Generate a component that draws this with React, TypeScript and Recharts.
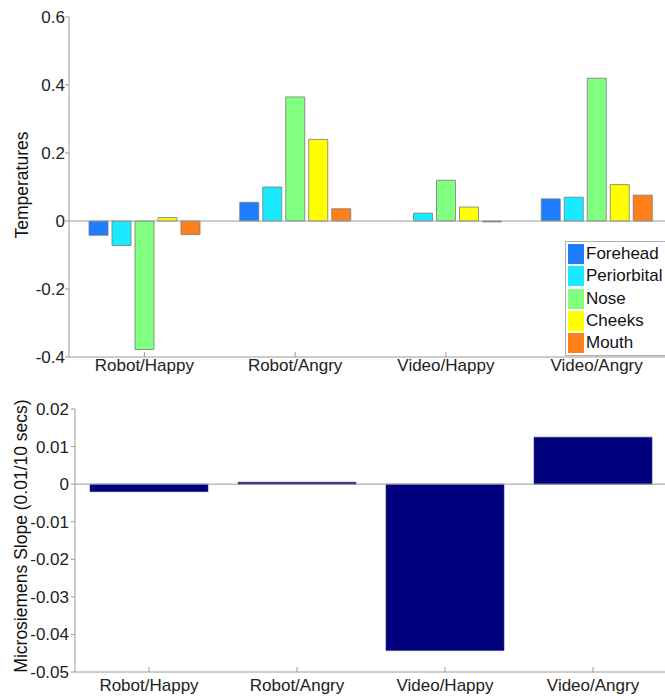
import React from "react"
import { Bar, BarChart, ReferenceLine, XAxis, YAxis } from "recharts"

// categories shared by both panels
const conditions = ["Robot/Happy", "Robot/Angry", "Video/Happy", "Video/Angry"]

// top panel: temperature change per facial region
const forehead = [-0.042, 0.055, 0, 0.065]
const periorbital = [-0.072, 0.1, 0.023, 0.07]
const nose = [-0.378, 0.365, 0.12, 0.42]
const cheeks = [0.01, 0.24, 0.041, 0.107]
const mouth = [-0.04, 0.036, -0.003, 0.076]

const regions = [
  { key: "Forehead", values: forehead, color: "#1a7eff" },
  { key: "Periorbital", values: periorbital, color: "#1aeaff" },
  { key: "Nose", values: nose, color: "#80ff80" },
  { key: "Cheeks", values: cheeks, color: "#ffff00" },
  { key: "Mouth", values: mouth, color: "#ff7f1a" },
]
const tempTicks = [-0.4, -0.2, 0, 0.2, 0.4, 0.6]

// bottom panel: skin conductance slope
const slope = [-0.002, 0.0005, -0.0443, 0.0125]
const slopeTicks = [-0.05, -0.04, -0.03, -0.02, -0.01, 0, 0.01, 0.02]

const tempData = conditions.map((name, i) => {
  const row: Record<string, any> = { name }
  regions.forEach((r) => (row[r.key] = r.values[i]))
  return row
})
const slopeData = conditions.map((name, i) => ({ name, slope: slope[i] }))

const font = "Arial, 'Liberation Sans', sans-serif"
const axisColor = "#9a9a9a"
const tickStyle = { fontSize: 17, fill: "#222", fontFamily: font }

const fmt = (v: number) => (v === 0 ? "0" : String(v))
const blank = () => ""

function RegionLegend() {
  return (
    <div
      style={{
        position: "absolute",
        left: 565,
        top: 241,
        border: "1px solid #b0b0b0",
        background: "white",
        padding: "1px 0 1px 2px",
        fontSize: 17,
        color: "#111",
        width: 110,
      }}
    >
      {regions.map((r) => (
        <div key={r.key} style={{ display: "flex", alignItems: "center", height: 22.3 }}>
          <span
            style={{
              display: "inline-block",
              width: 16,
              height: 20,
              background: r.color,
              marginRight: 2,
            }}
          />
          <span>{r.key}</span>
        </div>
      ))}
    </div>
  )
}

export default function App() {
  return (
    <div
      style={{
        position: "fixed",
        left: 0,
        top: 0,
        width: 665,
        height: 696,
        overflow: "hidden",
        background: "white",
        fontFamily: font,
      }}
    >
      <div
        style={{
          position: "absolute",
          left: 22,
          top: 185,
          transform: "translate(-50%, -50%) rotate(-90deg)",
          fontSize: 17.5,
          whiteSpace: "nowrap",
          color: "#111",
        }}
      >
        Temperatures
      </div>
      <div
        style={{
          position: "absolute",
          left: 21,
          top: 536,
          transform: "translate(-50%, -50%) rotate(-90deg)",
          fontSize: 17.5,
          whiteSpace: "nowrap",
          color: "#111",
        }}
      >
        Microsiemens Slope (0.01/10 secs)
      </div>

      <div style={{ position: "absolute", left: 0, top: 0 }}>
        <BarChart
          width={700}
          height={390}
          data={tempData}
          margin={{ top: 17, right: 28, left: 0, bottom: 3 }}
          barSize={19}
          barGap={4}
        >
          <XAxis
            xAxisId="top"
            orientation="top"
            dataKey="name"
            tickFormatter={blank}
            height={0}
            stroke={axisColor}
            tickSize={-5}
          />
          <XAxis
            dataKey="name"
            height={30}
            stroke={axisColor}
            tickSize={-5}
            tickMargin={7}
            tick={tickStyle}
          />
          <YAxis
            width={69}
            domain={[-0.4, 0.6]}
            ticks={tempTicks}
            tickFormatter={fmt}
            stroke={axisColor}
            tickSize={4}
            tickMargin={0}
            tick={tickStyle}
            allowDataOverflow
          />
          <ReferenceLine y={0} stroke={axisColor} />
          {regions.map((r) => (
            <Bar
              key={r.key}
              dataKey={r.key}
              fill={r.color}
              stroke="#7a7a7a"
              strokeWidth={0.8}
              isAnimationActive={false}
            />
          ))}
        </BarChart>
      </div>
      <RegionLegend />

      <div style={{ position: "absolute", left: 0, top: 390 }}>
        <BarChart
          width={700}
          height={306}
          data={slopeData}
          margin={{ top: 19, right: 33, left: 0, bottom: 2 }}
          barSize={118}
        >
          <XAxis
            xAxisId="top"
            orientation="top"
            dataKey="name"
            tickFormatter={blank}
            height={0}
            stroke={axisColor}
            tickSize={-5}
          />
          <XAxis
            dataKey="name"
            height={22}
            stroke={axisColor}
            tickSize={-5}
            tickMargin={12}
            tick={tickStyle}
          />
          <YAxis
            width={75}
            domain={[-0.05, 0.02]}
            ticks={slopeTicks}
            tickFormatter={fmt}
            stroke={axisColor}
            tickSize={4}
            tickMargin={2}
            tick={tickStyle}
            allowDataOverflow
          />
          <ReferenceLine y={0} stroke={axisColor} />
          <Bar dataKey="slope" fill="#00007f" stroke="#33338f" strokeWidth={0.6} isAnimationActive={false} />
        </BarChart>
      </div>
    </div>
  )
}
